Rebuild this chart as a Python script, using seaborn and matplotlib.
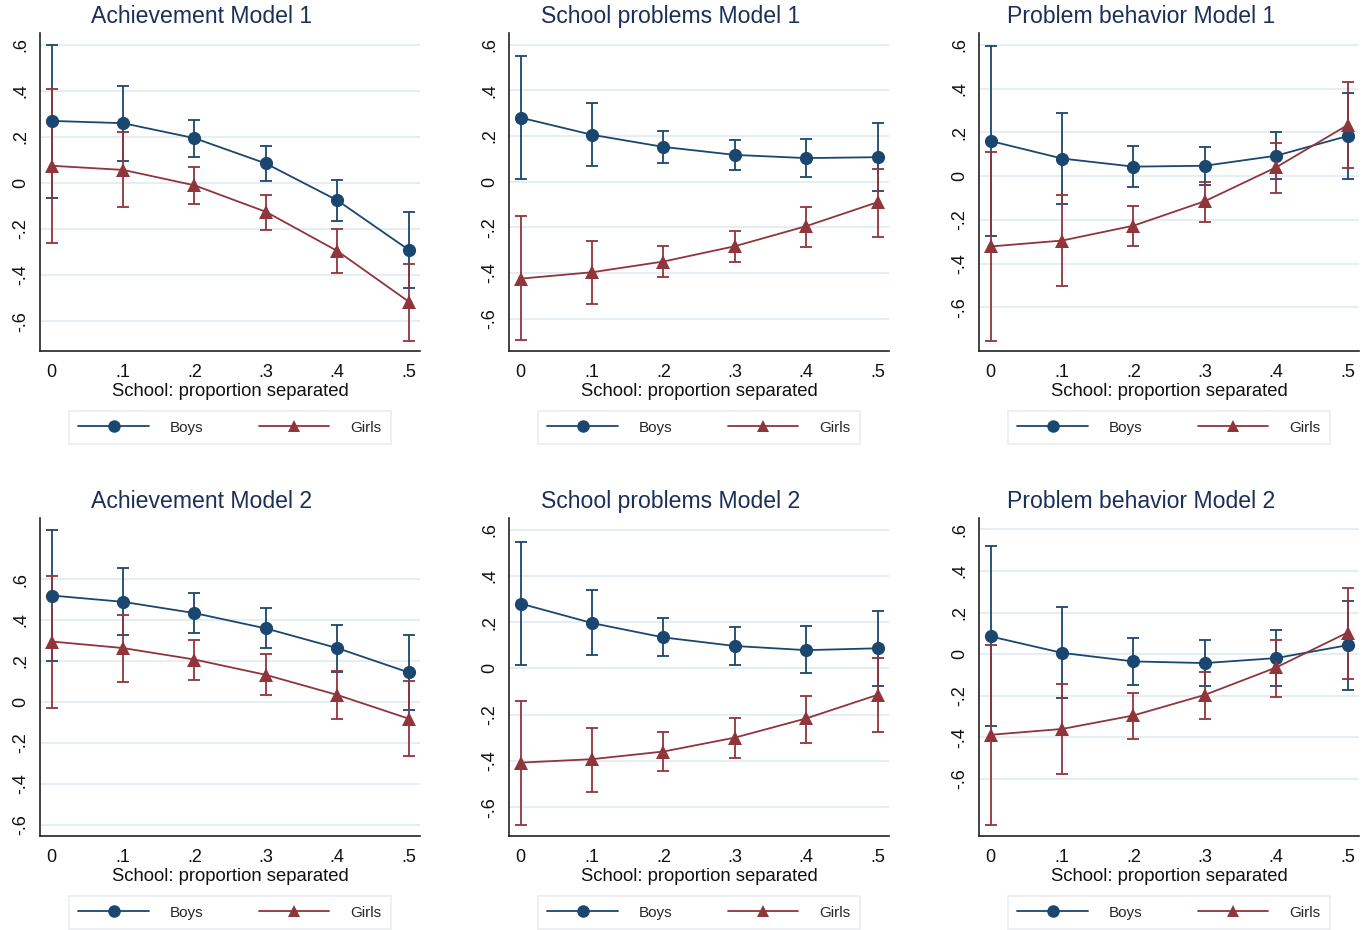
import pandas as pd
import matplotlib
matplotlib.use("Agg")
import matplotlib.pyplot as plt
import seaborn as sns
from matplotlib.lines import Line2D
from matplotlib.ticker import FuncFormatter

prop = [0, 0.1, 0.2, 0.3, 0.4, 0.5]
titles = ["Achievement Model 1", "School problems Model 1", "Problem behavior Model 1",
          "Achievement Model 2", "School problems Model 2", "Problem behavior Model 2"]

# estimates and 95% CI, one row per panel
boys_est = [[0.27, 0.26, 0.195, 0.085, -0.075, -0.29],
            [0.28, 0.205, 0.152, 0.117, 0.103, 0.107],
            [0.16, 0.08, 0.043, 0.047, 0.093, 0.183],
            [0.52, 0.489, 0.434, 0.359, 0.263, 0.144],
            [0.28, 0.196, 0.134, 0.097, 0.079, 0.087],
            [0.085, 0.006, -0.035, -0.043, -0.019, 0.043]]
boys_lo = [[-0.065, 0.095, 0.115, 0.01, -0.165, -0.455],
           [0.01, 0.07, 0.08, 0.053, 0.02, -0.042],
           [-0.275, -0.13, -0.052, -0.04, -0.013, -0.012],
           [0.20, 0.325, 0.336, 0.261, 0.147, -0.039],
           [0.017, 0.058, 0.052, 0.014, -0.02, -0.075],
           [-0.348, -0.212, -0.148, -0.154, -0.151, -0.172]]
boys_hi = [[0.60, 0.42, 0.275, 0.16, 0.015, -0.125],
           [0.55, 0.345, 0.222, 0.183, 0.187, 0.257],
           [0.595, 0.29, 0.138, 0.133, 0.20, 0.378],
           [0.842, 0.654, 0.53, 0.458, 0.378, 0.326],
           [0.548, 0.338, 0.219, 0.18, 0.182, 0.25],
           [0.518, 0.225, 0.077, 0.066, 0.116, 0.258]]
girls_est = [[0.075, 0.057, -0.01, -0.125, -0.295, -0.515],
             [-0.425, -0.397, -0.35, -0.283, -0.195, -0.09],
             [-0.322, -0.295, -0.227, -0.115, 0.04, 0.233],
             [0.295, 0.263, 0.207, 0.132, 0.034, -0.082],
             [-0.407, -0.392, -0.359, -0.299, -0.216, -0.114],
             [-0.388, -0.36, -0.295, -0.196, -0.064, 0.104]]
girls_lo = [[-0.26, -0.105, -0.09, -0.205, -0.39, -0.685],
            [-0.695, -0.535, -0.42, -0.35, -0.285, -0.242],
            [-0.755, -0.505, -0.322, -0.208, -0.077, 0.035],
            [-0.028, 0.098, 0.109, 0.033, -0.082, -0.264],
            [-0.675, -0.534, -0.443, -0.385, -0.323, -0.274],
            [-0.82, -0.576, -0.409, -0.313, -0.205, -0.12]]
girls_hi = [[0.41, 0.22, 0.07, -0.05, -0.20, -0.35],
            [-0.152, -0.262, -0.28, -0.215, -0.11, 0.055],
            [0.11, -0.088, -0.135, -0.028, 0.15, 0.43],
            [0.617, 0.426, 0.303, 0.232, 0.152, 0.10],
            [-0.14, -0.257, -0.276, -0.216, -0.117, 0.045],
            [0.042, -0.146, -0.186, -0.087, 0.069, 0.318]]
y_limits = [(-0.73, 0.652), (-0.742, 0.651), (-0.80, 0.654),
            (-0.656, 0.899), (-0.724, 0.65), (-0.875, 0.655)]
y_ticks = [-0.6, -0.4, -0.2, 0, 0.2, 0.4, 0.6]

BOYS = "#1a476f"
GIRLS = "#90353b"
GRID = "#e6eef1"

sns.set_style("white")
plt.rcParams['font.family'] = ['Liberation Sans', 'DejaVu Sans']


def stata_fmt(v, pos=None):
    if abs(v) < 1e-9:
        return "0"
    s = f"{v:.1f}"
    return s.replace("0.", ".")


W, H = 1363, 930
fig = plt.figure(figsize=(W / 100, H / 100), dpi=100)
lefts = [40, 509, 979]
tops = [33, 518]
aw, ah = 380, 318

for i in range(6):
    r, c = divmod(i, 3)
    ax = fig.add_axes([lefts[c] / W, 1 - (tops[r] + ah) / H, aw / W, ah / H])
    df = pd.DataFrame({
        "prop": prop * 2,
        "est": boys_est[i] + girls_est[i],
        "lo": boys_lo[i] + girls_lo[i],
        "hi": boys_hi[i] + girls_hi[i],
        "group": ["Boys"] * 6 + ["Girls"] * 6,
    })
    for y in y_ticks:
        ax.axhline(y, color=GRID, lw=1.5, zorder=0)
    for g, col in [("Boys", BOYS), ("Girls", GIRLS)]:
        d = df[df["group"] == g]
        ax.errorbar(d["prop"], d["est"], yerr=[d["est"] - d["lo"], d["hi"] - d["est"]],
                    fmt="none", ecolor=col, elinewidth=1.3, capsize=4, capthick=1.3, zorder=2)
    sns.lineplot(data=df, x="prop", y="est", hue="group", style="group",
                 palette={"Boys": BOYS, "Girls": GIRLS}, markers={"Boys": "o", "Girls": "^"},
                 dashes=False, markersize=9.5, markeredgewidth=0, lw=1.3,
                 legend=False, ax=ax, zorder=3)
    ax.set_xlim(-0.0165, 0.516)
    ax.set_ylim(*y_limits[i])
    ax.set_xticks(prop)
    ax.set_yticks(y_ticks)
    ax.xaxis.set_major_formatter(FuncFormatter(stata_fmt))
    ax.yaxis.set_major_formatter(FuncFormatter(stata_fmt))
    for lab in ax.get_yticklabels():
        lab.set_rotation(90)
        lab.set_va("center")
    ax.tick_params(axis="both", direction="out", length=5, width=1, color="#222222",
                   labelsize=13, labelcolor="#111111", pad=3)
    ax.tick_params(axis="x", pad=4)
    for s in ["top", "right"]:
        ax.spines[s].set_visible(False)
    for s in ["left", "bottom"]:
        ax.spines[s].set_color("#222222")
        ax.spines[s].set_linewidth(1.2)
    ax.set_xlabel("School: proportion separated", fontsize=13.3, color="#111111", labelpad=2)
    ax.set_ylabel("")
    ax.set_title(titles[i], fontsize=16.6, color="#1a2f5a", x=0.426, y=1.0, pad=7)

    handles = [Line2D([0], [0], color=BOYS, lw=1.3, marker="o", markersize=9, markeredgewidth=0),
               Line2D([0], [0], color=GIRLS, lw=1.3, marker="^", markersize=9, markeredgewidth=0)]
    leg = ax.legend(handles, ["Boys", "Girls"], loc="upper center", bbox_to_anchor=(0.5, -0.19),
                    ncol=2, fontsize=11, handlelength=4.6, handletextpad=1.4, columnspacing=3.6,
                    borderpad=0.6, borderaxespad=0, fancybox=False, frameon=True)
    leg.get_frame().set_edgecolor("#e4e8ea")
    leg.get_frame().set_linewidth(1.2)

fig.savefig("out.png", dpi=100, facecolor="white")
